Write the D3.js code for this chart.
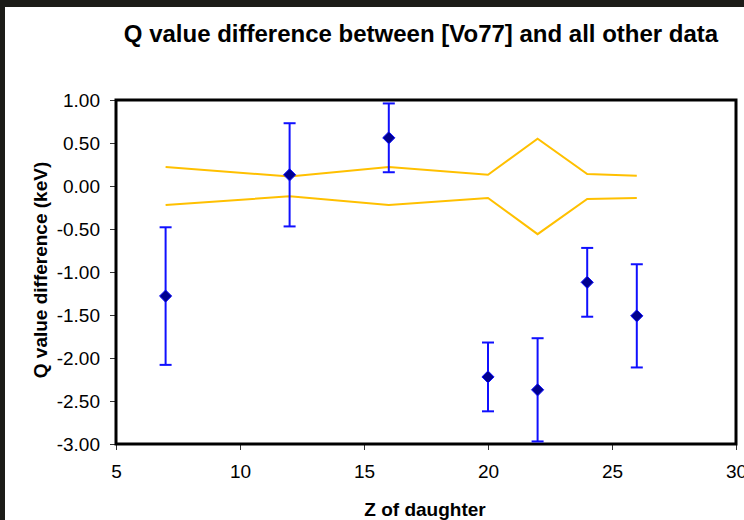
<!DOCTYPE html>
<html>
<head>
<meta charset="utf-8">
<script src="https://cdn.jsdelivr.net/npm/d3@7"></script>
<style>
  body { margin: 0; background: #1c1c18; }
  svg { display: block; }
</style>
</head>
<body>
<div id="chart"></div>
<script>
const width = 744;
const height = 520;

// Data
const zValues = [7, 12, 16, 20, 22, 24, 26];
const qDiff = [-1.28, 0.13, 0.56, -2.22, -2.37, -1.12, -1.51];
const qErr = [0.80, 0.60, 0.40, 0.40, 0.60, 0.40, 0.60];
const bandUpper = [0.22, 0.11, 0.22, 0.13, 0.55, 0.14, 0.12];
const bandLower = [-0.22, -0.12, -0.22, -0.14, -0.56, -0.15, -0.14];
const xTicks = [5, 10, 15, 20, 25, 30];
const yTicks = [1.0, 0.5, 0.0, -0.5, -1.0, -1.5, -2.0, -2.5, -3.0];

const margin = {top: 100, right: 8, bottom: 76, left: 116};

const svg = d3.select("#chart")
    .append("svg")
    .attr("width", width)
    .attr("height", height);

// dark frame + white chart area
svg.append("rect")
    .attr("width", width)
    .attr("height", height)
    .attr("fill", "#1c1c18");
svg.append("rect")
    .attr("x", 5)
    .attr("y", 7)
    .attr("width", width - 5)
    .attr("height", height - 7)
    .attr("fill", "#ffffff");

const x = d3.scaleLinear()
    .domain([5, 30])
    .range([margin.left, width - margin.right]);

const y = d3.scaleLinear()
    .domain([-3, 1])
    .range([height - margin.bottom, margin.top]);

const font = "Liberation Sans, Arial, sans-serif";

// Axes (the "30" label runs off the right edge, as in the original)
const xAxis = svg.append("g")
    .attr("transform", `translate(0,${height - margin.bottom})`)
    .call(d3.axisBottom(x).tickValues(xTicks).tickFormat(d => String(d)).tickSize(6).tickPadding(15));

const yAxis = svg.append("g")
    .attr("transform", `translate(${margin.left},0)`)
    .call(d3.axisLeft(y).tickValues(yTicks).tickFormat(d => d.toFixed(2)).tickSize(6).tickPadding(10));

[xAxis, yAxis].forEach(g => {
    g.select(".domain").remove();
    g.selectAll(".tick line").attr("stroke", "#333");
    g.selectAll(".tick text")
        .attr("fill", "#000")
        .style("font-family", font)
        .style("font-size", "19px");
});
yAxis.selectAll(".tick text").attr("dy", "0.35em");

// Plot area border
svg.append("rect")
    .attr("x", x(5))
    .attr("y", y(1))
    .attr("width", x(30) - x(5))
    .attr("height", y(-3) - y(1))
    .attr("fill", "none")
    .attr("stroke", "#000")
    .attr("stroke-width", 3);

// Yellow band lines
const line = d3.line()
    .x((d, i) => x(zValues[i]))
    .y(d => y(d));

[bandUpper, bandLower].forEach(band => {
    svg.append("path")
        .datum(band)
        .attr("d", line)
        .attr("fill", "none")
        .attr("stroke", "#ffc000")
        .attr("stroke-width", 2);
});

// Error bars
const points = zValues.map((z, i) => ({z: z, q: qDiff[i], e: qErr[i]}));
const bars = svg.append("g")
    .attr("stroke", "#1010ff")
    .attr("stroke-width", 2);

bars.selectAll("line.stem")
    .data(points)
    .join("line")
    .attr("class", "stem")
    .attr("x1", d => x(d.z))
    .attr("x2", d => x(d.z))
    .attr("y1", d => y(d.q + d.e))
    .attr("y2", d => y(d.q - d.e));

bars.selectAll("line.capTop")
    .data(points)
    .join("line")
    .attr("class", "capTop")
    .attr("x1", d => x(d.z) - 6)
    .attr("x2", d => x(d.z) + 6)
    .attr("y1", d => y(d.q + d.e))
    .attr("y2", d => y(d.q + d.e));

bars.selectAll("line.capBot")
    .data(points)
    .join("line")
    .attr("class", "capBot")
    .attr("x1", d => x(d.z) - 6)
    .attr("x2", d => x(d.z) + 6)
    .attr("y1", d => y(d.q - d.e))
    .attr("y2", d => y(d.q - d.e));

// Diamond markers
svg.append("g")
    .selectAll("path")
    .data(points)
    .join("path")
    .attr("d", d3.symbol(d3.symbolDiamond2, 95))
    .attr("transform", d => `translate(${x(d.z)},${y(d.q)})`)
    .attr("fill", "#000090")
    .attr("stroke", "#1010ff")
    .attr("stroke-width", 1);

// Title
svg.append("text")
    .attr("x", 421)
    .attr("y", 42)
    .attr("text-anchor", "middle")
    .style("font-family", font)
    .style("font-size", "24px")
    .style("font-weight", "bold")
    .text("Q value difference between [Vo77] and all other data");

// Axis titles
svg.append("text")
    .attr("x", 425)
    .attr("y", 516)
    .attr("text-anchor", "middle")
    .style("font-family", font)
    .style("font-size", "19px")
    .style("font-weight", "bold")
    .text("Z of daughter");

svg.append("text")
    .attr("transform", `translate(47,270) rotate(-90)`)
    .attr("text-anchor", "middle")
    .style("font-family", font)
    .style("font-size", "19px")
    .style("font-weight", "bold")
    .text("Q value difference (keV)");
</script>
</body>
</html>
